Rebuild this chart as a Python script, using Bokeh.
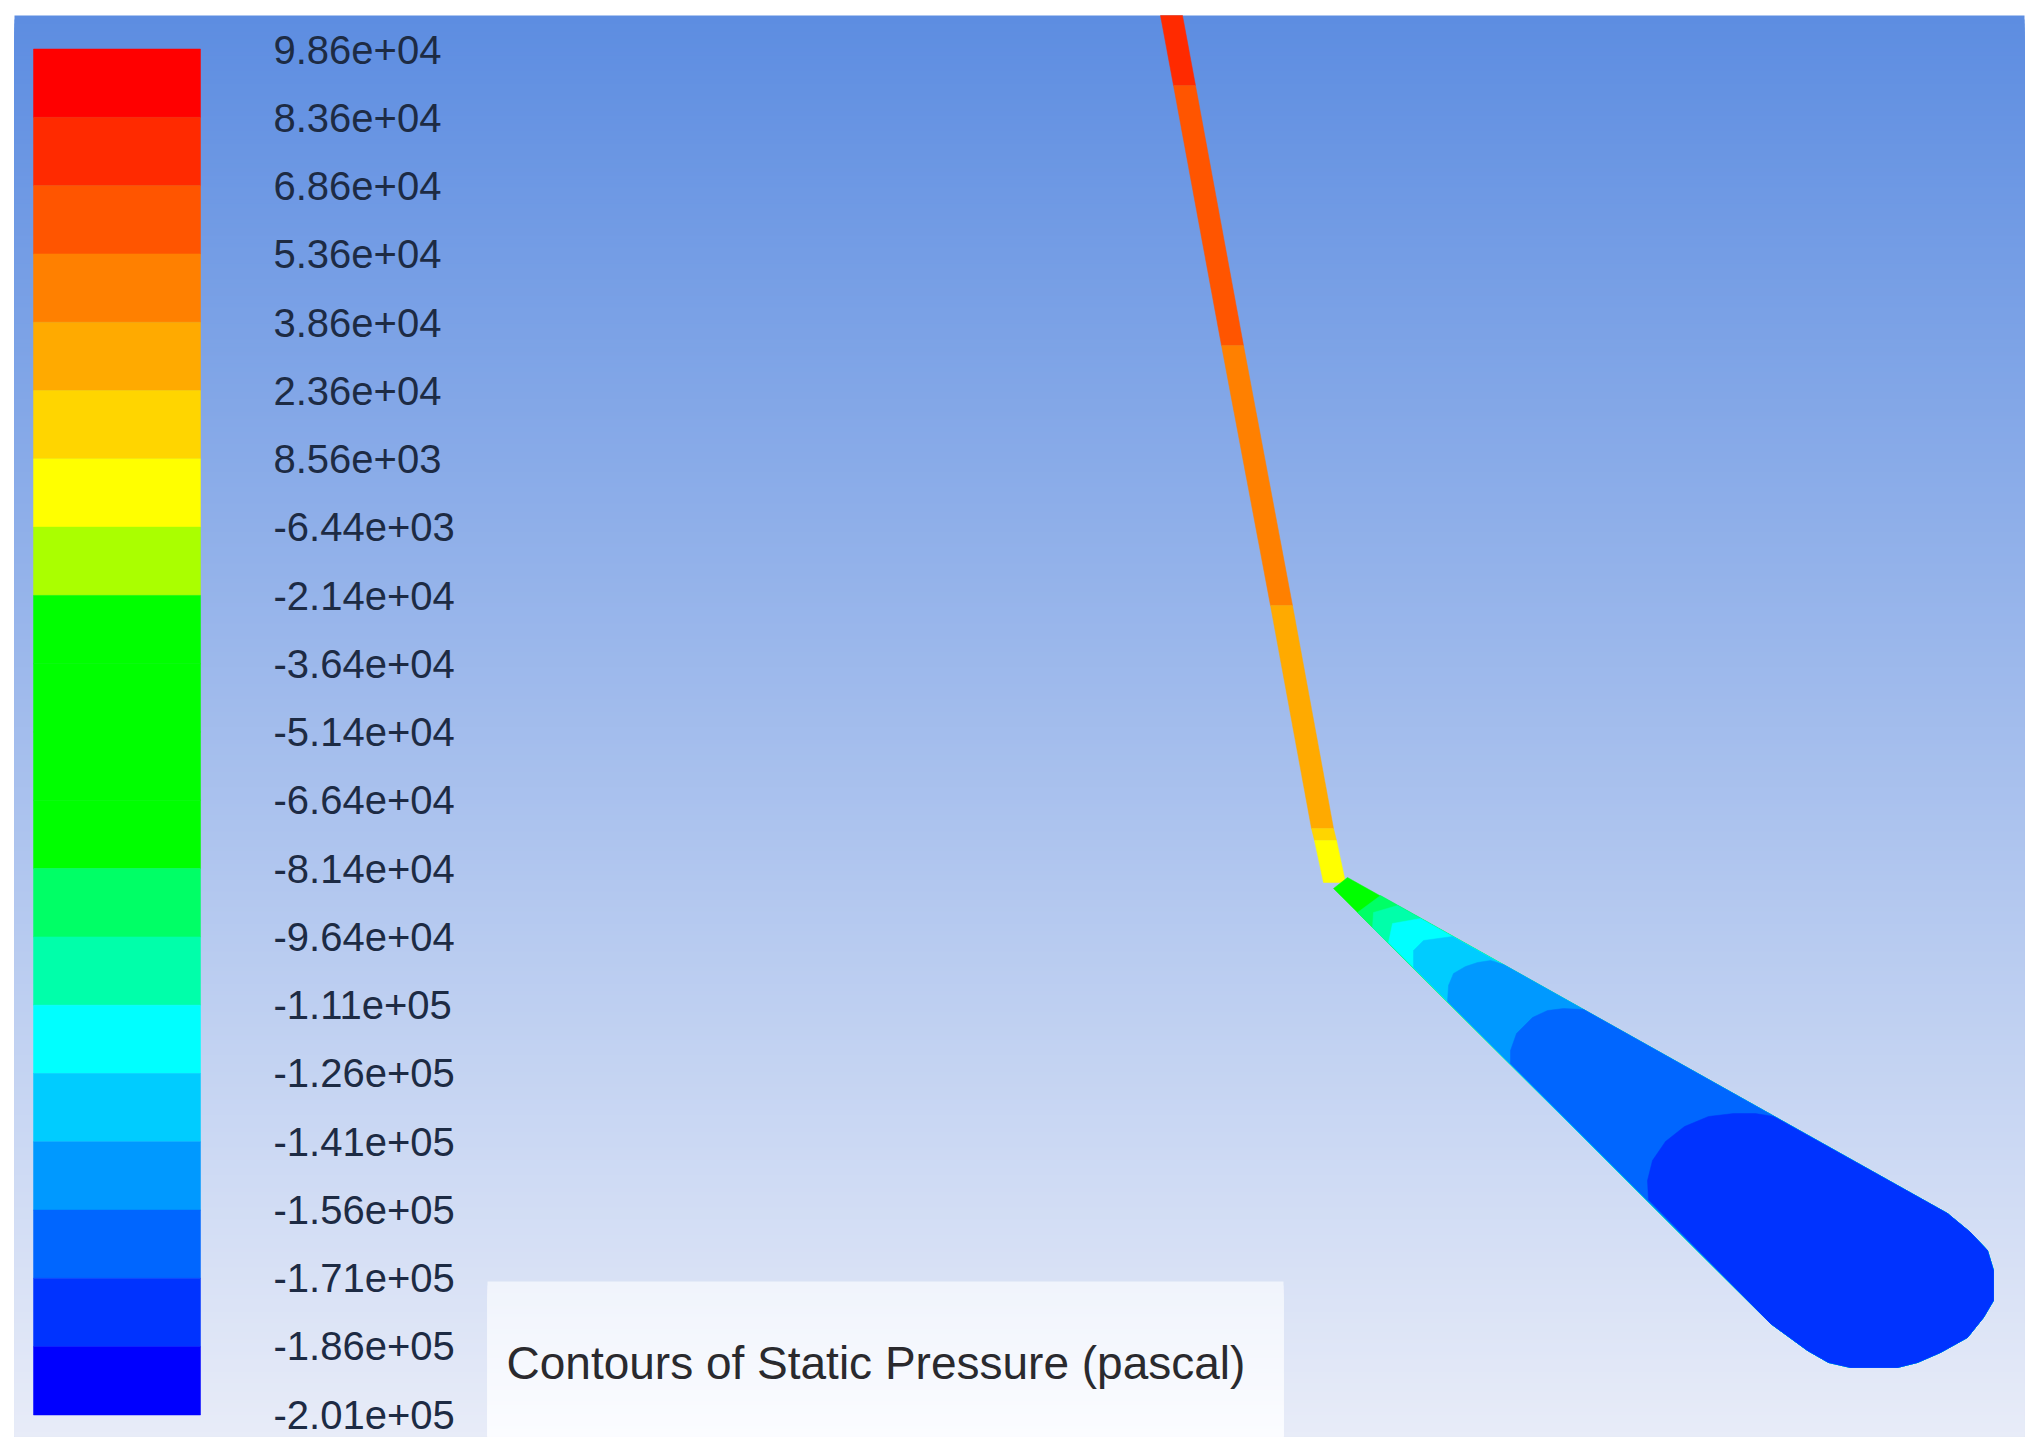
from bokeh.plotting import figure
from bokeh.models import Range1d
from bokeh.core.properties import value
from bokeh.embed import file_html
from bokeh.resources import INLINE

# ---- chart data ----
level_labels = ["9.86e+04", "8.36e+04", "6.86e+04", "5.36e+04", "3.86e+04", "2.36e+04", "8.56e+03",
                "-6.44e+03", "-2.14e+04", "-3.64e+04", "-5.14e+04", "-6.64e+04", "-8.14e+04",
                "-9.64e+04", "-1.11e+05", "-1.26e+05", "-1.41e+05", "-1.56e+05", "-1.71e+05",
                "-1.86e+05", "-2.01e+05"]
band_colors = ["#FF0000", "#FF2A00", "#FF5500", "#FF8000", "#FFAA00", "#FFD500", "#FFFF00",
               "#AAFF00", "#00FF00", "#00FF00", "#00FF00", "#00FF00", "#00FF66", "#00FFAA",
               "#00FFFF", "#00CCFF", "#0099FF", "#0066FF", "#0033FF", "#0000FF"]
title_text = "Contours of Static Pressure (pascal)"

# stem of the nozzle: slice limits along its length and colours
stem_y = [15, 85, 345, 605, 828, 840, 882]
stem_x = [1171, 1184, 1232, 1281, 1322, 1325, 1334]
stem_colors = ["#FF2A00", "#FF5500", "#FF8000", "#FFAA00", "#FFD500", "#FFFF00"]

# cone: contour fronts (lower edge to upper edge), then the common far end
cone_colors = ["#00FF00", "#00FF66", "#00FFAA", "#00FFFF", "#00CCFF", "#0099FF", "#0066FF", "#0033FF"]
front_x = [[1333, 1347],
           [1357, 1380],
           [1372, 1373, 1397],
           [1388, 1392, 1420],
           [1413, 1413, 1423, 1452],
           [1447, 1448, 1453, 1465, 1477, 1490, 1503],
           [1510, 1510, 1516, 1532, 1547, 1563, 1583],
           [1648, 1647, 1652, 1665, 1684, 1708, 1733, 1755, 1773]]
front_y = [[888, 877],
           [912, 895],
           [927, 912, 905],
           [942, 923, 918],
           [967, 950, 940, 936],
           [1001, 985, 973, 966, 962, 960, 964],
           [1063, 1050, 1033, 1017, 1010, 1008, 1009],
           [1199, 1180, 1160, 1141, 1126, 1116, 1113, 1113, 1116]]
cap_x = [1947, 1970, 1987, 1993, 1993, 1983, 1967, 1940, 1917, 1897, 1850, 1828, 1807, 1770]
cap_y = [1213, 1232, 1250, 1270, 1300, 1317, 1337, 1352, 1362, 1367, 1367, 1362, 1350, 1323]

# ---- page layout ----
W, H = 2030, 1438
p = figure(width=W, height=H, x_range=Range1d(0, W), y_range=Range1d(H, 0),
           output_backend="svg", toolbar_location=None, min_border=0,
           x_axis_location=None, y_axis_location=None)
p.grid.visible = False
p.outline_line_color = None
p.background_fill_color = "white"
p.border_fill_color = "white"


def hex_mix(top, bot, t):
    return "#%02x%02x%02x" % tuple(round(a + (b - a) * t) for a, b in zip(top, bot))


def gradient(x0, x1, y0, y1, top, bot, step=4):
    # every strip runs down to the foot of the area, so no seam can show between strips
    ys = list(range(y0, y1, step))
    n = max(len(ys) - 1, 1)
    cols = [hex_mix(top, bot, i / n) for i in range(len(ys))]
    p.quad(left=x0, right=x1, top=ys, bottom=[y1] * len(ys), fill_color=cols, line_color=None)


X0, X1, Y0, Y1 = 14, 2024, 15, 1436
gradient(X0, X1, Y0, Y1, (93, 141, 225), (232, 236, 248))
gradient(487, 1283, 1281, Y1, (240, 244, 252), (251, 252, 255))

# colour bar
bar_top, bar_step = 48.5, 68.3
tops = [bar_top + i * bar_step for i in range(len(band_colors))]
bots = [t + bar_step for t in tops]
p.quad(left=33, right=200, top=tops, bottom=bots, fill_color=band_colors, line_color=band_colors, line_width=0.5)

# level labels
lab_y = [49 + i * 68.25 for i in range(len(level_labels))]
p.text(x=[273] * len(level_labels), y=lab_y, text=level_labels, text_font=value("Liberation Sans"),
       text_font_size="40px", text_color="#1d2b44", text_baseline="middle", text_align="left")

# stem
half = 11
sx, sy = [], []
for i in range(len(stem_colors)):
    a, b = stem_x[i], stem_x[i + 1]
    sx.append([a - half, a + half, b + half, b - half])
    sy.append([stem_y[i], stem_y[i], stem_y[i + 1], stem_y[i + 1]])
p.patches(sx, sy, fill_color=stem_colors, line_color=stem_colors, line_width=0.5)

# cone, painted from the tip to the far end
for fx, fy, col in zip(front_x, front_y, cone_colors):
    p.patch(fx + cap_x, fy + cap_y, fill_color=col, line_color=col, line_width=0.5)

# title
p.text(x=[506], y=[1362], text=[title_text], text_font=value("Liberation Sans"),
       text_font_size="46px", text_color="#2a2a2e", text_baseline="middle", text_align="left")

open("out.html", "w").write(file_html(p, INLINE))
